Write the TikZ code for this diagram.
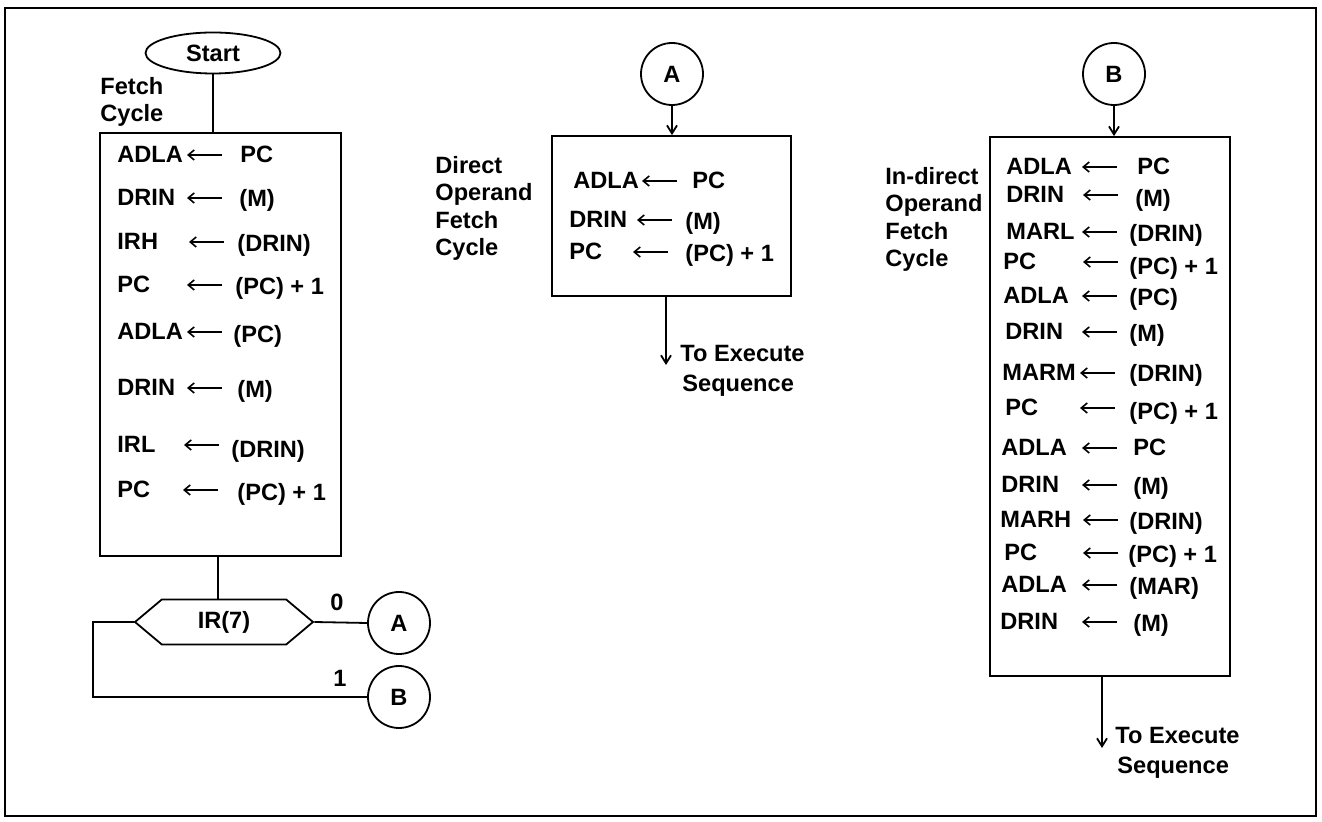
\documentclass[tikz,border=0pt]{standalone}
\usepackage{fontspec}
\setmainfont{Liberation Sans}
\usetikzlibrary{shapes.geometric,shapes.symbols,arrows.meta}
\newcommand\asg[8]{%
  \node[txt] (#1l) at (#2,#5+1) {#7};
  \node[glyph] (#1a) at (#3,#5-7) {};
  \draw[garr] (#1a.east) -- (#1a.west);
  \node[txt] (#1r) at (#4,#6+1) {#8};}
\begin{document}
\begin{tikzpicture}[x=0.5pt,y=-0.5pt,
  every node/.style={font=\fontsize{11.8}{13.7}\selectfont\bfseries},
  txt/.style={anchor=base west,inner sep=0pt},
  glyph/.style={anchor=west,inner sep=0pt,minimum width=17pt,minimum height=0pt},
  lbl/.style={anchor=north west,inner sep=0pt,align=left},
  ln/.style={line width=0.9pt},
  arr/.style={ln,-{Straight Barb[length=4pt,width=5pt]}},
  garr/.style={line width=0.8pt,-{Straight Barb[length=3pt,width=5pt]}},
  box/.style={draw,ln,inner sep=0pt},
  conn/.style={draw,ln,circle,minimum size=31pt,inner sep=0pt}]
\useasboundingbox (0,0) rectangle (1322,822);
\draw[line width=1.2pt] (5,8) rectangle (1316,816);

% ---- Fetch cycle ----
\node[draw,ln,ellipse,minimum width=67.5pt,minimum height=20.5pt,inner sep=0pt] (start) at (213,53) {Start};
\node[lbl] (fetchlbl) at (100,77) {Fetch\\Cycle};
\node[box,minimum width=120.5pt,minimum height=211.5pt] (fetch) at (220.5,344.5) {};
\asg{f1}{117}{187}{240}{162}{162}{ADLA}{PC}
\asg{f2}{117}{187}{239}{205}{206}{DRIN}{(M)}
\asg{f3}{117}{189}{237}{249}{251}{IRH}{(DRIN)}
\asg{f4}{117}{187}{235}{292}{294}{PC}{(PC) + 1}
\asg{f5}{117}{187}{233}{339}{342}{ADLA}{(PC)}
\asg{f6}{117}{187}{237}{395}{397}{DRIN}{(M)}
\asg{f7}{117}{184}{231}{452}{457}{IRL}{(DRIN)}
\asg{f8}{117}{183}{237}{497}{500}{PC}{(PC) + 1}
\draw[ln] (start.south) -- (start.south |- fetch.north);

\node[draw,ln,signal,signal to=west and east,signal pointer angle=80,
      minimum width=89pt,minimum height=22.5pt,inner sep=0pt] (dec) at (224,622) {IR(7)};
\coordinate (decin) at (218,556);
\draw[ln] (decin) -- (decin |- dec.north);
\node[conn] (ca) at (399,623) {A};
\node[conn] (cb) at (399,697) {B};
\node[txt,anchor=center] (zero) at (337,602) {0};
\node[txt,anchor=center] (one) at (340,678) {1};
\coordinate (kink) at (93,697);
\draw[ln] (dec.east) -- (ca.west);
\draw[ln] (dec.west) -| (kink) -- (cb.west);

% ---- Direct operand fetch ----
\node[conn] (ca2) at (672,74) {A};
\node[box,minimum width=119.5pt,minimum height=80pt] (dbox) at (671.5,216) {};
\node[lbl] (dlbl) at (435,156) {Direct\\Operand\\Fetch\\Cycle};
\asg{d1}{573}{642}{692}{188}{188}{ADLA}{PC}
\asg{d2}{569}{637}{685}{227}{229}{DRIN}{(M)}
\asg{d3}{569}{633}{685}{259}{261}{PC}{(PC) + 1}
\draw[arr] (ca2.south) -- (ca2.south |- dbox.north);
\coordinate (dexit) at (666,365);
\draw[arr] (dexit |- dbox.south) -- (dexit);
\node[lbl,font=\fontsize{11.8}{15}\selectfont\bfseries] (dto) at (680,345) {To Execute\\\hspace{1pt}Sequence};

% ---- In-direct operand fetch ----
\node[conn] (cb2) at (1114,74) {B};
\node[box,minimum width=120pt,minimum height=269.5pt] (ibox) at (1110,406.5) {};
\node[lbl] (ilbl) at (885,167) {In-direct\\Operand\\Fetch\\Cycle};
\asg{i1}{1006}{1082}{1137}{174}{174}{ADLA}{PC}
\asg{i2}{1006}{1083}{1135}{202}{206}{DRIN}{(M)}
\asg{i3}{1006}{1082}{1129}{239}{241}{MARL}{(DRIN)}
\asg{i4}{1003}{1083}{1129}{269}{274}{PC}{(PC) + 1}
\asg{i5}{1003}{1082}{1129}{303}{305}{ADLA}{(PC)}
\asg{i6}{1005}{1082}{1129}{339}{341}{DRIN}{(M)}
\asg{i7}{1002}{1080}{1129}{380}{381}{MARM}{(DRIN)}
\asg{i8}{1005}{1080}{1129}{415}{419}{PC}{(PC) + 1}
\asg{i9}{1001}{1082}{1133}{455}{455}{ADLA}{PC}
\asg{i10}{1001}{1082}{1133}{492}{494}{DRIN}{(M)}
\asg{i11}{1000}{1083}{1129}{527}{529}{MARH}{(DRIN)}
\asg{i12}{1004}{1083}{1128}{560}{562}{PC}{(PC) + 1}
\asg{i13}{1001}{1082}{1129}{592}{594}{ADLA}{(MAR)}
\asg{i14}{1000}{1082}{1133}{629}{631}{DRIN}{(M)}
\draw[arr] (cb2.south) -- (cb2.south |- ibox.north);
\coordinate (iexit) at (1102,748);
\draw[arr] (iexit |- ibox.south) -- (iexit);
\node[lbl,font=\fontsize{11.8}{15}\selectfont\bfseries] (ito) at (1115,727) {To Execute\\\hspace{1pt}Sequence};
\end{tikzpicture}
\end{document}
